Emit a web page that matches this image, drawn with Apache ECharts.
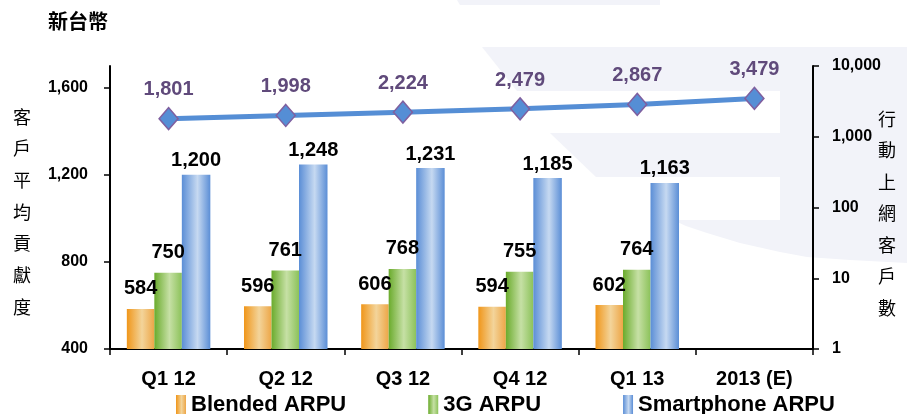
<!DOCTYPE html>
<html>
<head>
<meta charset="utf-8">
<script src="https://cdn.jsdelivr.net/npm/echarts@6/dist/echarts.min.js"></script>
<style>
html,body{margin:0;padding:0;background:#fff;}
#chart{width:907px;height:414px;}
</style>
</head>
<body>
<div id="chart"></div>
<script>
var categories = ['Q1 12', 'Q2 12', 'Q3 12', 'Q4 12', 'Q1 13', '2013 (E)'];
var blendedArpu = [584, 596, 606, 594, 602, null];
var arpu3G = [750, 761, 768, 755, 764, null];
var smartphoneArpu = [1200, 1248, 1231, 1185, 1163, null];
var mobileUsers = [1801, 1998, 2224, 2479, 2867, 3479];
var leftTicks = [400, 800, 1200, 1600];
var rightTicks = [1, 10, 100, 1000, 10000];

var FONT = '"Liberation Sans", Arial, sans-serif';
var CJK = '"Noto Sans CJK TC", "Noto Sans CJK SC", sans-serif';
function fmt(v){ return Number(v).toLocaleString('en-US'); }
function grad(a, b, c){
  return new echarts.graphic.LinearGradient(0, 0, 1, 0, [
    {offset: 0, color: a}, {offset: 0.55, color: b}, {offset: 1, color: c}
  ]);
}
var WM = '#f2f3f9';

var chart = echarts.init(document.getElementById('chart'));
var barLabel = function(dist){
  return {show: true, position: 'top', distance: dist, color: '#000', fontFamily: FONT,
          fontWeight: 'bold', fontSize: 20, formatter: function(p){ return fmt(p.value); }};
};
chart.setOption({
  animation: false,
  backgroundColor: '#fff',
  graphic: [
    {type: 'polygon', silent: true, z: -10, shape: {points: [[457,0],[660,0],[660,5],[460,5]]}, style: {fill: WM}},
    {type: 'polygon', silent: true, z: -10, shape: {points: [[482,47],[907,47],[907,91],[517,91]]}, style: {fill: WM}},
    {type: 'polygon', silent: true, z: -10, shape: {points: [[780,91],[907,91],[907,263],[850,260],[807,257],[780,252]]}, style: {fill: WM}},
    {type: 'polygon', silent: true, z: -10, shape: {points: [[550,133],[780,133],[780,177],[596,177]]}, style: {fill: WM}},
    {type: 'polygon', silent: true, z: -10, shape: {points: [[673,220],[780,220],[780,252],[740,243],[707,233],[686,226]]}, style: {fill: WM}},
    {type: 'text', left: 48, top: 11, style: {text: '新台幣', font: 'bold 20px ' + CJK, fill: '#000'}},
    {type: 'text', left: 13, top: 101, style: {text: '客\n戶\n平\n均\n貢\n獻\n度', font: '18px ' + CJK, fill: '#000', lineHeight: 31.7}},
    {type: 'text', left: 878, top: 103, style: {text: '行\n動\n上\n網\n客\n戶\n數', font: '18px ' + CJK, fill: '#000', lineHeight: 31.5}}
  ],
  grid: {left: 110, right: 94, top: 66, bottom: 65, containLabel: false},
  legend: {
    left: 171, top: 389, itemWidth: 10, itemHeight: 20, itemGap: 82, icon: 'rect',
    textStyle: {fontFamily: FONT, fontWeight: 'bold', fontSize: 22, color: '#000'},
    data: ['Blended ARPU', '3G ARPU', 'Smartphone ARPU']
  },
  xAxis: {
    type: 'category', data: categories,
    axisLine: {lineStyle: {color: '#000', width: 2}},
    axisTick: {show: true, length: 6, lineStyle: {color: '#000', width: 1.5}},
    axisLabel: {margin: 20, color: '#000', fontFamily: FONT, fontWeight: 'bold', fontSize: 20}
  },
  yAxis: [
    {
      type: 'value', min: 400, max: 1700, interval: 400,
      splitLine: {show: false},
      axisLine: {show: true, lineStyle: {color: '#000', width: 2}},
      axisTick: {show: true, length: 6, customValues: leftTicks, lineStyle: {color: '#000', width: 1.5}},
      axisLabel: {customValues: leftTicks, margin: 22, color: '#000', fontFamily: FONT, fontWeight: 'bold', fontSize: 16,
                  formatter: function(v){ return fmt(v); }}
    },
    {
      type: 'log', logBase: 10, min: 1, max: 10000,
      splitLine: {show: false},
      axisLine: {show: true, lineStyle: {color: '#000', width: 2}},
      axisTick: {show: true, length: 6, customValues: rightTicks, lineStyle: {color: '#000', width: 1.5}},
      axisLabel: {customValues: rightTicks, margin: 19, color: '#000', fontFamily: FONT, fontWeight: 'bold', fontSize: 16,
                  formatter: function(v){ return fmt(v); }}
    }
  ],
  series: [
    {name: 'Blended ARPU', type: 'bar', data: blendedArpu, barWidth: 27.5, barGap: '0%',
     itemStyle: {color: grad('#f0961a', '#f3d49a', '#eda647')}, label: barLabel(10)},
    {name: '3G ARPU', type: 'bar', data: arpu3G, barWidth: 27.5, barGap: '0%',
     itemStyle: {color: grad('#6aab2c', '#c6e0a5', '#8cc25a')}, label: barLabel(10)},
    {name: 'Smartphone ARPU', type: 'bar', data: smartphoneArpu, barWidth: 28.5, barGap: '0%',
     itemStyle: {color: grad('#5b8ed6', '#c6d9f1', '#5b8ed6')}, label: barLabel(4)},
    {name: '行動上網客戶數', type: 'line', yAxisIndex: 1, data: mobileUsers,
     symbol: 'diamond', symbolSize: [19, 22],
     lineStyle: {color: '#558ed5', width: 5},
     itemStyle: {color: '#558ed5', borderColor: '#7f5f9f', borderWidth: 1.5},
     label: {show: true, position: 'top', distance: 7, color: '#604a7b', fontFamily: FONT, fontWeight: 'bold', fontSize: 20,
             formatter: function(p){ return fmt(p.value); }}
    }
  ]
});
</script>
</body>
</html>
